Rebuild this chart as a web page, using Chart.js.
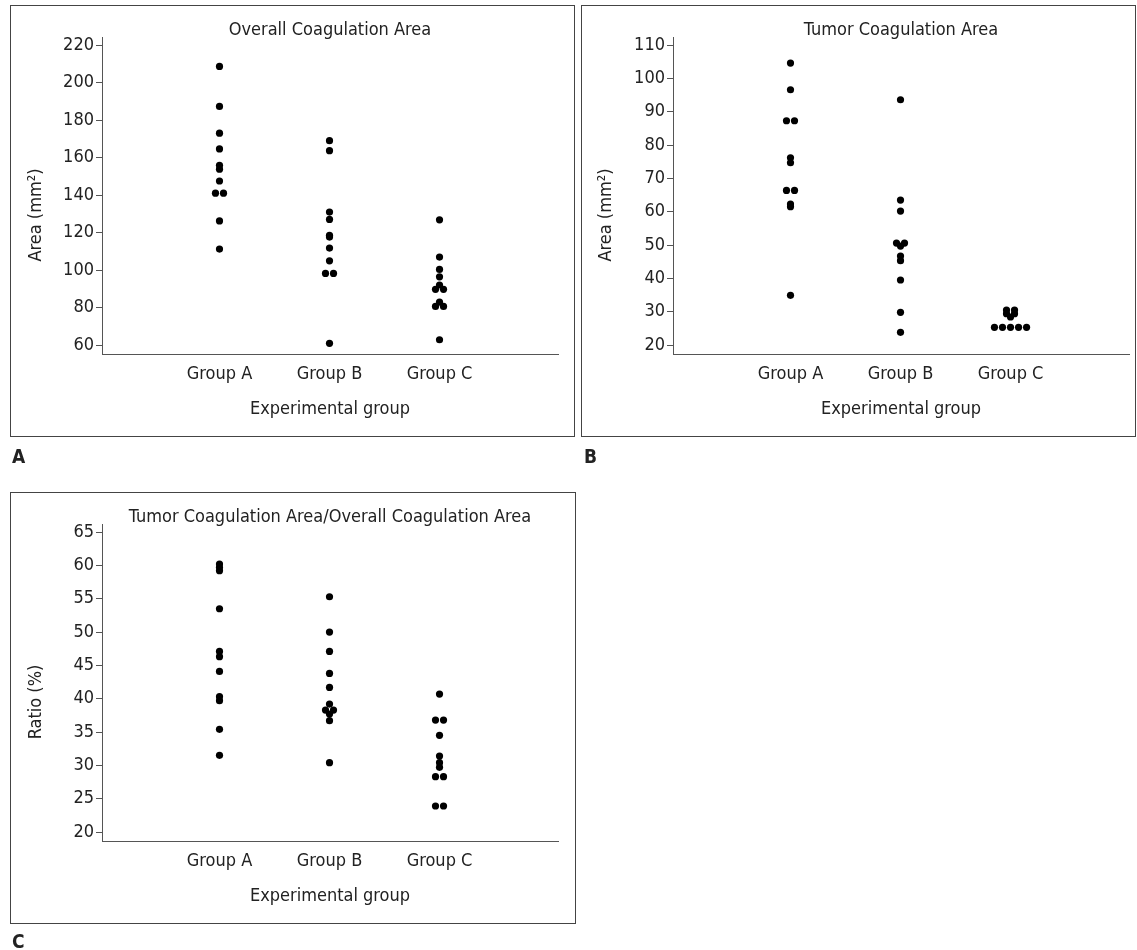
<!DOCTYPE html>
<html>
<head>
<meta charset="utf-8">
<script src="https://cdn.jsdelivr.net/npm/chart.js@4.4.1/dist/chart.umd.min.js"></script>
<style>
  body { margin: 0; background: #fff; font-family: "DejaVu Sans Condensed", "DejaVu Sans", sans-serif; color: #222; }
  .panel { position: absolute; border: 1px solid #444; box-sizing: border-box; }
  .panel canvas { display: block; }
  .ylab { position: absolute; font-size: 18px; line-height: 1; white-space: nowrap; transform: translate(-50%, -50%) rotate(-90deg); }
  .tag { position: absolute; font-size: 19px; font-weight: bold; line-height: 1; }
</style>
</head>
<body>
<div class="panel" style="left:10px;top:5px;width:565px;height:432px"><canvas id="chartA" width="563" height="430"></canvas></div>
<div class="panel" style="left:581px;top:5px;width:555px;height:432px"><canvas id="chartB" width="553" height="430"></canvas></div>
<div class="panel" style="left:10px;top:492px;width:566px;height:432px"><canvas id="chartC" width="564" height="430"></canvas></div>

<div class="ylab" style="left:35px;top:215px">Area (mm²)</div>
<div class="ylab" style="left:605px;top:215px">Area (mm²)</div>
<div class="ylab" style="left:35px;top:702px">Ratio (%)</div>

<div class="tag" style="left:12px;top:447px">A</div>
<div class="tag" style="left:584px;top:447px">B</div>
<div class="tag" style="left:12px;top:932px">C</div>

<script>
const groups = ['Group A', 'Group B', 'Group C'];
const groupX = [1, 2, 3];

// A - Overall coagulation area (mm2)
const overallA = [208.6, 187.3, 173.0, 164.6, 155.9, 153.8, 147.5, 141.0, 141.0, 126.2, 111.2];
const overallB = [169.0, 163.7, 130.9, 127.0, 118.5, 117.6, 111.7, 104.9, 98.2, 98.2, 60.9];
const overallC = [126.8, 106.9, 100.3, 96.4, 92.0, 89.7, 89.7, 82.9, 80.6, 80.6, 62.8];
const overallTicks = [60, 80, 100, 120, 140, 160, 180, 200, 220];

// B - Tumor coagulation area (mm2)
const tumorA = [104.6, 96.6, 87.3, 87.3, 76.2, 74.7, 66.4, 66.4, 62.3, 61.5, 34.9];
const tumorB = [93.6, 63.5, 60.2, 50.6, 50.6, 49.7, 46.7, 45.3, 39.5, 29.8, 23.8];
const tumorC = [30.5, 30.5, 29.4, 29.4, 28.4, 25.3, 25.3, 25.3, 25.3, 25.3];
const tumorTicks = [20, 30, 40, 50, 60, 70, 80, 90, 100, 110];

// C - Ratio tumor / overall (%)
const ratioA = [60.2, 59.7, 59.2, 53.5, 47.1, 46.3, 44.1, 40.3, 39.7, 35.4, 31.5];
const ratioB = [55.3, 50.0, 47.1, 43.8, 41.7, 39.2, 38.3, 38.3, 37.7, 36.7, 30.4];
const ratioC = [40.7, 36.8, 36.8, 34.5, 31.4, 30.4, 29.7, 28.3, 28.3, 23.9, 23.9];
const ratioTicks = [20, 25, 30, 35, 40, 45, 50, 55, 60, 65];

Chart.defaults.font.family = "'DejaVu Sans Condensed', 'DejaVu Sans', sans-serif";
Chart.defaults.font.size = 18;
Chart.defaults.color = '#222';

// equal values sit side by side, like a dot plot
function dotPoints(values, x) {
  const step = 0.073;
  const counts = {};
  values.forEach(v => counts[v] = (counts[v] || 0) + 1);
  const seen = {};
  return values.map(v => {
    const i = seen[v] = (seen[v] || 0) + 1;
    return { x: x + (i - 1 - (counts[v] - 1) / 2) * step, y: v };
  });
}

function makePanel(id, title, series, yTicks, yMin, yMax, rightPad) {
  return new Chart(document.getElementById(id), {
    type: 'scatter',
    data: {
      datasets: series.map((vals, i) => ({
        data: dotPoints(vals, groupX[i]),
        backgroundColor: '#000',
        borderWidth: 0,
        pointRadius: 3.6,
        pointHoverRadius: 3.6
      }))
    },
    options: {
      responsive: false,
      animation: false,
      layout: { padding: { left: 0, right: rightPad, top: 0, bottom: 12 } },
      plugins: {
        legend: { display: false },
        tooltip: { enabled: false },
        title: {
          display: true, text: title, fullSize: false,
          font: { size: 18, weight: 'normal', lineHeight: 0.7 }, padding: { top: 18.5, bottom: 0 }
        }
      },
      scales: {
        x: {
          type: 'linear', min: -0.068, max: 4.077,
          grid: { display: false, drawTicks: false },
          border: { display: true, color: '#555' },
          ticks: { padding: 10, callback: v => groups[v - 1] },
          afterBuildTicks: s => { s.ticks = groupX.map(v => ({ value: v })); },
          afterFit: s => { s.height = 70; },
          title: { display: true, text: 'Experimental group', padding: { top: 0, bottom: 4 } }
        },
        y: {
          min: yMin, max: yMax,
          grid: { drawOnChartArea: false, drawTicks: true, tickLength: 6, color: '#555' },
          border: { display: true, color: '#555' },
          ticks: { padding: 2 },
          afterBuildTicks: s => { s.ticks = yTicks.map(v => ({ value: v })); },
          afterFit: s => { s.width = 91; }
        }
      }
    }
  });
}

makePanel('chartA', 'Overall Coagulation Area', [overallA, overallB, overallC], overallTicks, 55.2, 224.27, 16);
makePanel('chartB', 'Tumor Coagulation Area', [tumorA, tumorB, tumorC], tumorTicks, 17.3, 112.4, 6);
makePanel('chartC', 'Tumor Coagulation Area/Overall Coagulation Area', [ratioA, ratioB, ratioC], ratioTicks, 18.65, 66.2, 17);
</script>
</body>
</html>
